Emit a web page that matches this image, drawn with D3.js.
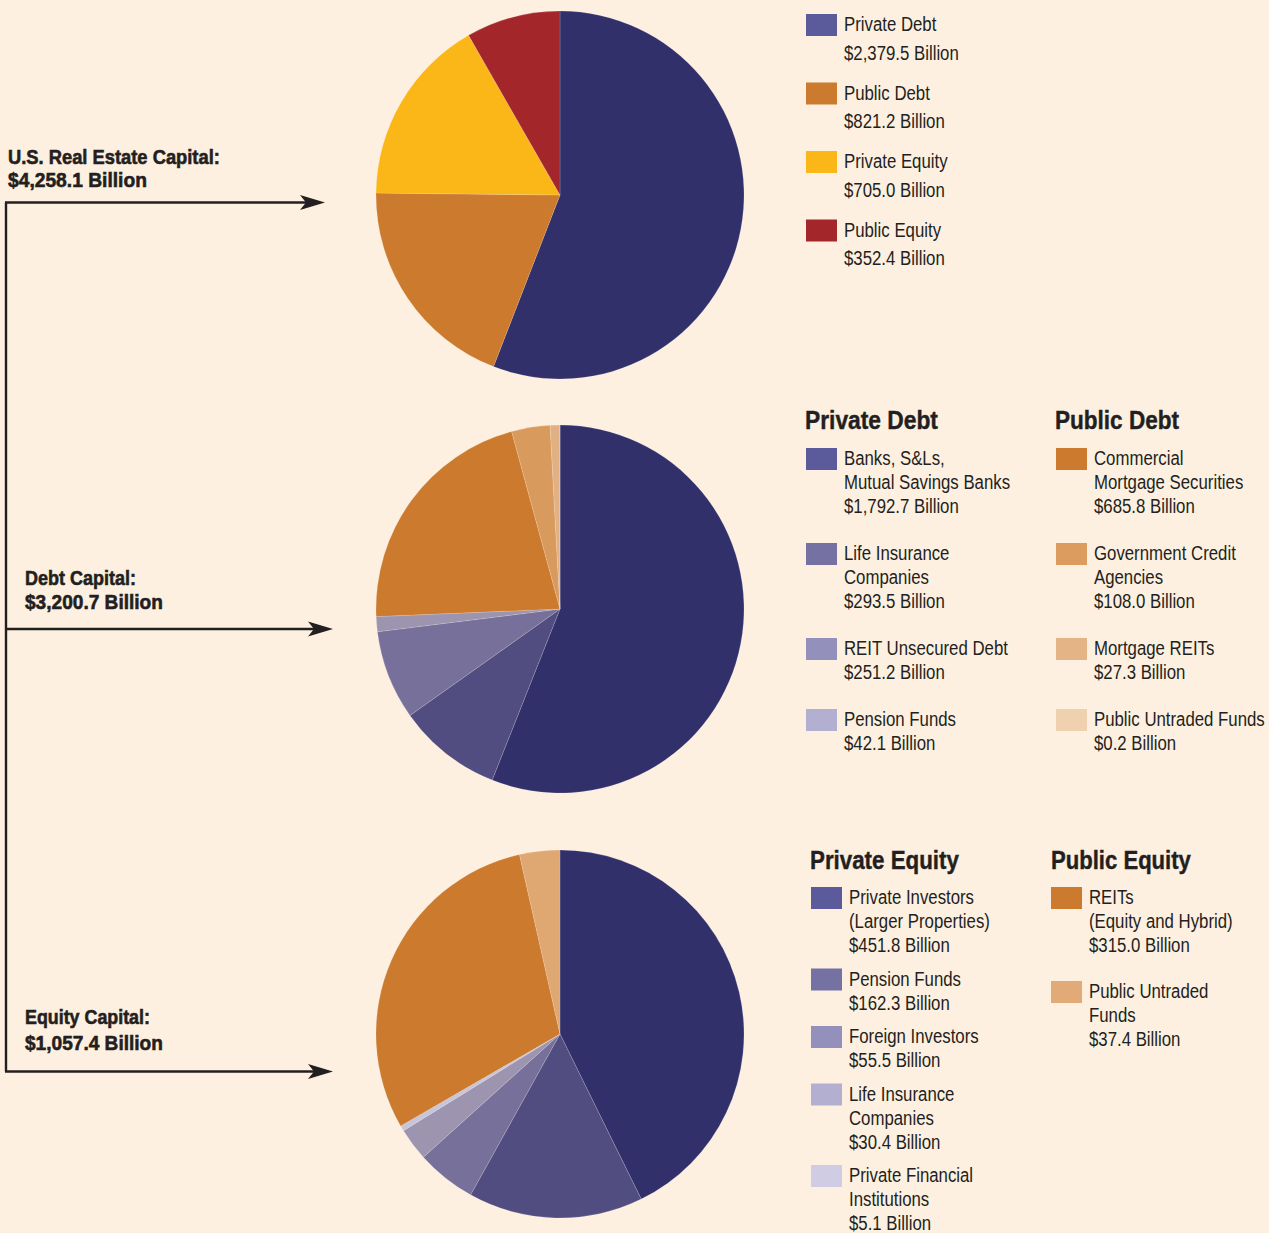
<!DOCTYPE html>
<html>
<head>
<meta charset="utf-8">
<script src="https://cdn.jsdelivr.net/npm/d3@7"></script>
<style>
  html, body { margin: 0; padding: 0; background: #fdf0e0; }
  svg { display: block; }
  text { font-family: 'Liberation Sans', Arial, sans-serif; fill: #231f20; }
  .title { font-weight: bold; font-size: 21px; stroke: #231f20; stroke-width: 0.6px; }
  .head { font-weight: bold; font-size: 25px; stroke: #231f20; stroke-width: 0.4px; }
  .item { font-size: 21px; }
</style>
</head>
<body>
<svg id="chart" width="1269" height="1233"></svg>
<script>
// ---------------- DATA ----------------
const overviewLabels = ["Private Debt", "Public Debt", "Private Equity", "Public Equity"];
const overviewValues = [2379.5, 821.2, 705.0, 352.4];
const overviewTotal = 4258.1;

const debtPrivateLabels = [["Banks, S&Ls,", "Mutual Savings Banks"], ["Life Insurance", "Companies"], ["REIT Unsecured Debt"], ["Pension Funds"]];
const debtPrivateValues = [1792.7, 293.5, 251.2, 42.1];
const debtPublicLabels = [["Commercial", "Mortgage Securities"], ["Government Credit", "Agencies"], ["Mortgage REITs"], ["Public Untraded Funds"]];
const debtPublicValues = [685.8, 108.0, 27.3, 0.2];
const debtTotal = 3200.7;

const equityPrivateLabels = [["Private Investors", "(Larger Properties)"], ["Pension Funds"], ["Foreign Investors"], ["Life Insurance", "Companies"], ["Private Financial", "Institutions"]];
const equityPrivateValues = [451.8, 162.3, 55.5, 30.4, 5.1];
const equityPublicLabels = [["REITs", "(Equity and Hybrid)"], ["Public Untraded", "Funds"]];
const equityPublicValues = [315.0, 37.4];
const equityTotal = 1057.4;

const titles = [["U.S. Real Estate Capital:", overviewTotal], ["Debt Capital:", debtTotal], ["Equity Capital:", equityTotal]];

// ---------------- STYLE ----------------
const pieOverviewColors = ["#31306b", "#cc7a2e", "#fbb718", "#a3262a"];
const keyOverviewColors = ["#5b5b9b", "#cc7a2e", "#fbb718", "#a3262a"];
const piePurples = ["#31306b", "#524d80", "#77709a", "#9d94b0", "#c8c4d9"];
const keyPurples = ["#5b5b9b", "#7572a3", "#9390bb", "#b2afd1", "#cfcce3"];
const pieOranges = ["#cc7a2e", "#d99a5e", "#e2b183", "#ecd0b0"];
const keyOranges = ["#cc7a2e", "#dc9c60", "#e4b486", "#efd1b0"];
const pieEqOranges = ["#cc7a2e", "#dfa772"];
const keyEqOranges = ["#cc7a2e", "#e2aa76"];
const CONDENSE = 0.80;

const fmt = v => "$" + d3.format(",.1f")(v) + " Billion";
const svg = d3.select("#chart");
const R = 184;

// condensed text helper: draws text then squeezes it horizontally via transform
function ctext(cls, x, y, s, factor, fixedW) {
  const t = svg.append("text").attr("class", cls).attr("x", 0).attr("y", 0).text(s);
  const natural = t.node().getComputedTextLength();
  const k = fixedW ? fixedW / natural : factor;
  t.attr("transform", `translate(${x},${y}) scale(${k},1)`);
  return t;
}

// ---------------- PIES ----------------
function drawPie(cx, cy, values, colors) {
  const pie = d3.pie().sort(null).value(d => d);
  const arc = d3.arc().innerRadius(0).outerRadius(R);
  const g = svg.append("g").attr("transform", `translate(${cx},${cy})`);
  g.selectAll("path").data(pie(values)).join("path")
    .attr("d", arc)
    .attr("fill", (d, i) => colors[i])
    .attr("stroke", "rgba(255,255,255,0.3)")
    .attr("stroke-width", 0.5)
    .attr("stroke-linejoin", "round");
}
drawPie(560, 195, overviewValues, pieOverviewColors);
drawPie(560, 609, debtPrivateValues.concat(debtPublicValues), piePurples.slice(0, 4).concat(pieOranges));
drawPie(560, 1034, equityPrivateValues.concat(equityPublicValues), piePurples.concat(pieEqOranges));

// ---------------- CONNECTOR + ARROWS ----------------
const arrowYs = [202.5, 629, 1071.5];
const arrowTips = [325, 333, 333];
svg.append("path")
  .attr("d", `M${6},${arrowYs[0]} L${6},${arrowYs[2]}`)
  .attr("stroke", "#231f20").attr("stroke-width", 2.4).attr("fill", "none");
arrowYs.forEach((y, i) => {
  const tip = arrowTips[i];
  svg.append("line").attr("x1", 5).attr("x2", tip - 12).attr("y1", y).attr("y2", y)
    .attr("stroke", "#231f20").attr("stroke-width", 2.4);
  svg.append("path")
    .attr("d", `M${tip},${y} L${tip - 25},${y - 7.5} L${tip - 19},${y} L${tip - 25},${y + 7.5} Z`)
    .attr("fill", "#231f20");
});

// ---------------- TITLES ----------------
const titlePos = [
  { x: 8, y1: 164, y2: 187, w1: 212, w2: 139 },
  { x: 25, y1: 585, y2: 609, w1: 111, w2: 138 },
  { x: 25, y1: 1024, y2: 1050, w1: 125, w2: 138 }
];
titles.forEach((t, i) => {
  const p = titlePos[i];
  ctext("title", p.x, p.y1, t[0], 1, p.w1);
  ctext("title", p.x, p.y2, fmt(t[1]), 1, p.w2);
});

// ---------------- LEGENDS ----------------
function legend(opts) {
  const { x, top, labels, values, colors, lineH, gap } = opts;
  let y = top;
  labels.forEach((lines, i) => {
    svg.append("rect").attr("x", x).attr("y", y).attr("width", 31).attr("height", 22)
      .attr("fill", colors[i]);
    const all = lines.concat([fmt(values[i])]);
    all.forEach((s, j) => {
      ctext("item", x + 38, y + 17 + j * lineH, s, CONDENSE);
    });
    y += all.length * lineH + gap;
  });
}
function header(x, y, txt, w) {
  ctext("head", x, y, txt, 1, w);
}

// overview legend
legend({ x: 806, top: 14, labels: overviewLabels.map(l => [l]), values: overviewValues, colors: keyOverviewColors, lineH: 28.5, gap: 11.5 });

// debt legends
header(805, 429, "Private Debt", 133);
header(1055, 429, "Public Debt", 124);
legend({ x: 806, top: 448, labels: debtPrivateLabels, values: debtPrivateValues, colors: keyPurples, lineH: 24, gap: 23 });
legend({ x: 1056, top: 448, labels: debtPublicLabels, values: debtPublicValues, colors: keyOranges, lineH: 24, gap: 23 });

// equity legends
header(810, 869, "Private Equity", 149);
header(1051, 869, "Public Equity", 140);
legend({ x: 811, top: 887, labels: equityPrivateLabels, values: equityPrivateValues, colors: keyPurples, lineH: 24, gap: 9.5 });
legend({ x: 1051, top: 887, labels: equityPublicLabels, values: equityPublicValues, colors: keyEqOranges, lineH: 24, gap: 22 });
</script>
</body>
</html>
